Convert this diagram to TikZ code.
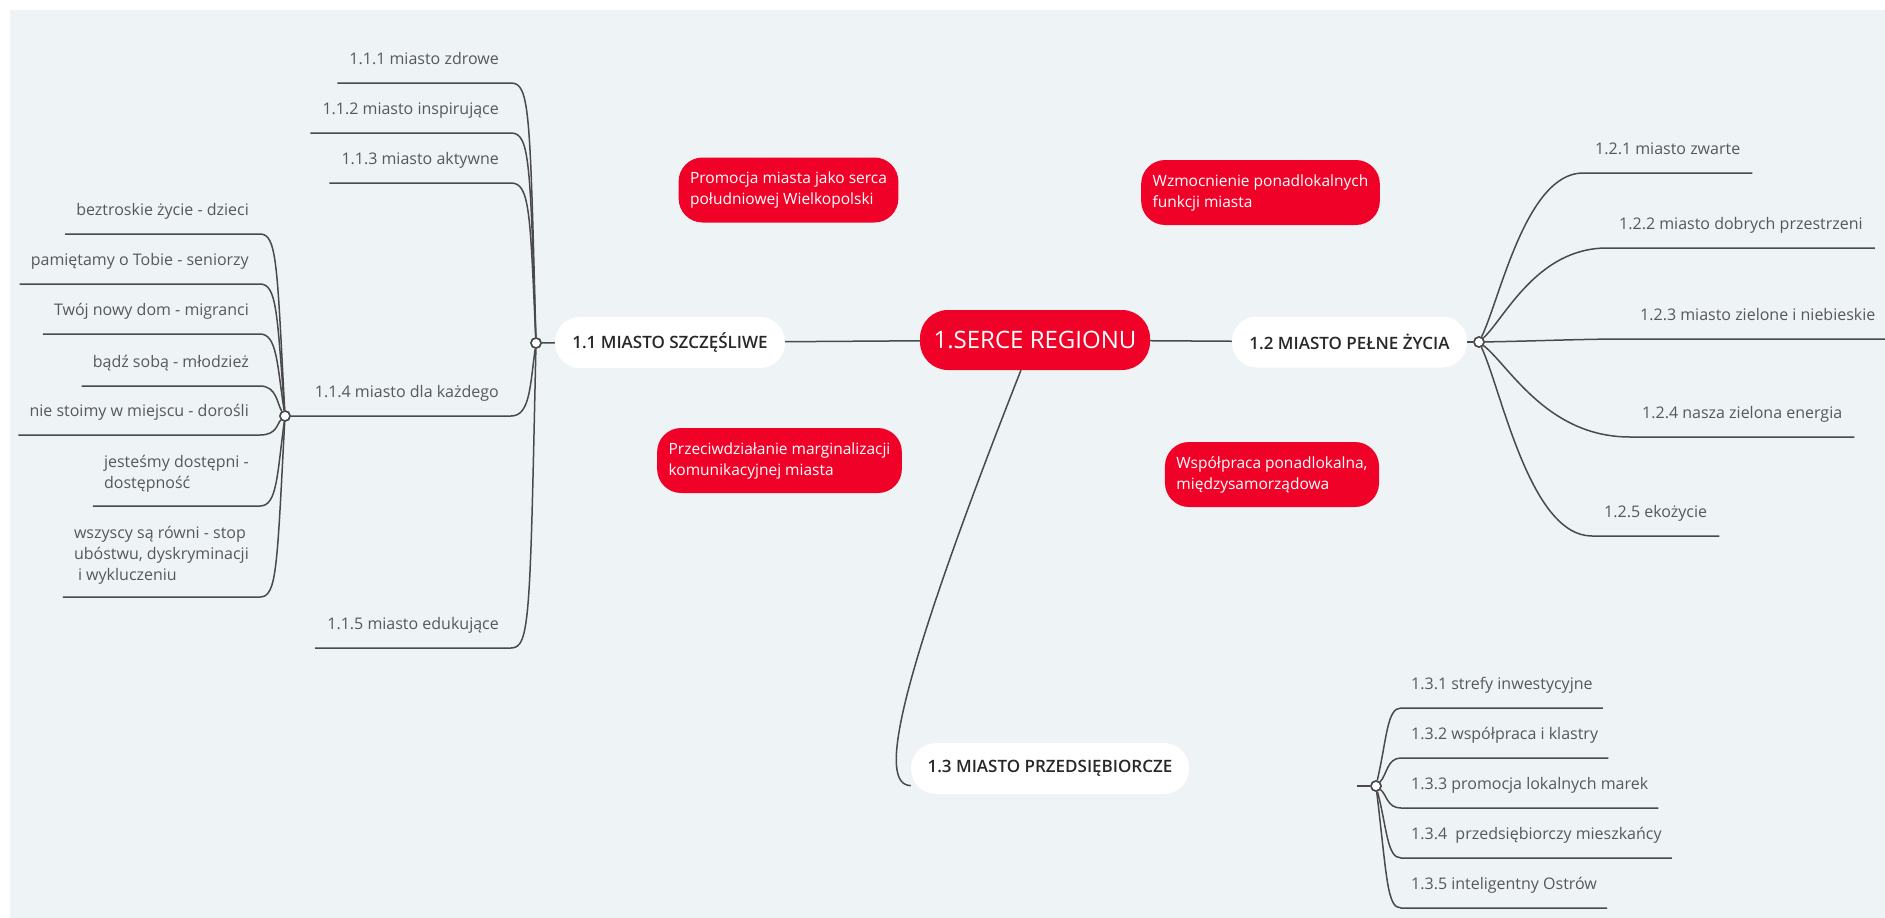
\documentclass[tikz,border=0pt]{standalone}
\usepackage{fontspec}
\setmainfont{Open Sans}
\IfFontExistsTF{Open Sans Semibold}{\newfontfamily\topicfont{Open Sans Semibold}}{\IfFontExistsTF{Open Sans SemiBold}{\newfontfamily\topicfont{Open Sans SemiBold}}{\newfontfamily\topicfont{Open Sans}[FakeBold=1.2]}}
\usetikzlibrary{calc}
\definecolor{bgc}{RGB}{238,243,246}
\definecolor{redc}{RGB}{240,2,40}
\definecolor{linec}{RGB}{74,74,74}
\definecolor{subc}{RGB}{88,88,88}
\definecolor{mainc}{RGB}{40,40,40}
\begin{document}
\begin{tikzpicture}[x=1pt,y=-1pt,
  conn/.style={draw=linec, line width=1.5pt},
  junc/.style={circle, draw=linec, fill=white, line width=1.5pt, minimum size=10pt, inner sep=0pt},
  subtxt/.style={font=\fontsize{16}{21}\selectfont, text=subc, inner ysep=0pt, text height=11.5pt, text depth=3.5pt},
  subL/.style={subtxt, anchor=east, inner xsep=12pt},
  subR/.style={subtxt, anchor=west, inner xsep=12pt},
  multi/.style={font=\fontsize{16}{21}\selectfont, text=subc, inner ysep=0pt, inner xsep=11pt, align=left, anchor=east},
  topic/.style={fill=white, rounded corners=25pt, minimum height=51pt, font=\topicfont\fontsize{17}{20}\selectfont, text=mainc, inner sep=0pt},
  central/.style={fill=redc, rounded corners=28pt, minimum width=230pt, minimum height=60pt, font=\fontsize{24}{28}\selectfont, text=white, inner sep=0pt},
  redbox/.style={fill=redc, rounded corners=24pt, minimum height=65pt, font=\fontsize{15.5}{21}\selectfont, text=white, align=left, inner xsep=11.5pt, inner ysep=0pt}
]
\useasboundingbox (0,0) rectangle (1885,918);
\fill[white] (0,0) rectangle (1885,918);
\fill[bgc] (10,10) rectangle (1885,918);

% main topics
\node[central] (cent) at (1035,340) {1.SERCE REGIONU};
\node[topic, minimum width=230pt] (n11) at (670,342.5) {1.1 MIASTO SZCZĘŚLIWE};
\node[topic, minimum width=235pt] (n12) at (1349.5,342) {1.2 MIASTO PEŁNE ŻYCIA};
\node[topic, minimum width=278pt] (n13) at (1050,768.5) {1.3 MIASTO PRZEDSIĘBIORCZE};

% red floating boxes
\node[redbox] (r1) at (788.5,190) {Promocja miasta jako serca\\południowej Wielkopolski};
\node[redbox] (r2) at (1260.5,192.5) {Wzmocnienie ponadlokalnych\\funkcji miasta};
\node[redbox] (r3) at (779.5,460.5) {Przeciwdziałanie marginalizacji\\komunikacyjnej miasta};
\node[redbox] (r4) at (1272,474.5) {Współpraca ponadlokalna,\\międzysamorządowa};

% junctions
\node[junc] (c1) at (536,343) {};
\node[junc] (c2) at (285,416) {};
\node[junc] (c3) at (1479,342) {};
\node[junc] (c4) at (1376,786) {};
\coordinate (s4) at (1357,786);
\coordinate (e3) at (1885,339);

% 1.1 subtopics
\node[subL] (n111) at (511,60.5) {1.1.1 miasto zdrowe};
\node[subL] (n112) at (511,110.5) {1.1.2 miasto inspirujące};
\node[subL] (n113) at (511,160.5) {1.1.3 miasto aktywne};
\node[subL] (n114) at (511,393.5) {1.1.4 miasto dla każdego};
\node[subL] (n115) at (511,625.5) {1.1.5 miasto edukujące};

% 1.1.4 subtopics
\node[subL, inner xsep=11pt] (a1) at (260,211.5) {beztroskie życie - dzieci};
\node[subL, inner xsep=11pt] (a2) at (260,261.5) {pamiętamy o Tobie - seniorzy};
\node[subL, inner xsep=11pt] (a3) at (260,311.5) {Twój nowy dom - migranci};
\node[subL, inner xsep=11pt] (a4) at (260,363.5) {bądź sobą - młodzież};
\node[subL, inner xsep=11pt] (a5) at (260,412.5) {nie stoimy w miejscu - dorośli};
\node[multi] (a6) at (260,473.5) {jesteśmy dostępni -\\dostępność};
\node[multi] (a7) at (260,555) {wszyscy są równi - stop\\ubóstwu, dyskryminacji\\\hspace*{4pt}i wykluczeniu};

% 1.2 subtopics
\node[subR] (d1) at (1583,150.5) {1.2.1 miasto zwarte};
\node[subR] (d2) at (1607,225.5) {1.2.2 miasto dobrych przestrzeni};
\node[subR] (d3) at (1628,316.5) {1.2.3 miasto zielone i niebieskie};
\node[subR] (d4) at (1630,414.5) {1.2.4 nasza zielona energia};
\node[subR] (d5) at (1592,513.5) {1.2.5 ekożycie};

% 1.3 subtopics
\node[subR, inner xsep=10pt] (b1) at (1401,685.5) {1.3.1 strefy inwestycyjne};
\node[subR, inner xsep=10pt] (b2) at (1401,735.5) {1.3.2 współpraca i klastry};
\node[subR, inner xsep=10pt] (b3) at (1401,785.5) {1.3.3 promocja lokalnych marek};
\node[subR, inner xsep=10pt] (b4) at (1401,835.5) {1.3.4\ \ przedsiębiorczy mieszkańcy};
\node[subR, inner xsep=10pt] (b5) at (1401,885.5) {1.3.5 inteligentny Ostrów};

% main connectors
\draw[conn] (n11) -- (cent);
\draw[conn] (cent) -- (n12);
\draw[conn] (cent.-115) .. controls (895,690) and (878,785) .. (n13.-173);
\draw[conn] (c1) -- (n11);
\draw[conn] (n12) -- (c3);
\draw[conn] (s4) -- (c4);

% 1.1 branches
\draw[conn] (c1) .. controls (530,113) and (530,83) .. (n111.east |- 0,83) -- (n111.west |- 0,83);
\draw[conn] (c1) .. controls (530,163) and (530,133) .. (n112.east |- 0,133) -- (n112.west |- 0,133);
\draw[conn] (c1) .. controls (530,213) and (530,183) .. (n113.east |- 0,183) -- (n113.west |- 0,183);
\draw[conn] (c1) .. controls (530,386) and (530,416) .. (n114.east |- 0,416) -- (c2);
\draw[conn] (c1) .. controls (530,618) and (530,648) .. (n115.east |- 0,648) -- (n115.west |- 0,648);

% 1.1.4 branches
\draw[conn] (c2) .. controls (277,264) and (277,234) .. (a1.east |- 0,234) -- (a1.west |- 0,234);
\draw[conn] (c2) .. controls (277,314) and (277,284) .. (a2.east |- 0,284) -- (a2.west |- 0,284);
\draw[conn] (c2) .. controls (277,364) and (277,334) .. (a3.east |- 0,334) -- (a3.west |- 0,334);
\draw[conn] (c2) .. controls (277,404) and (277,386) .. (a4.east |- 0,386) -- (a4.west |- 0,386);
\draw[conn] (c2) .. controls (277,423.6) and (277,435) .. (a5.east |- 0,435) -- (a5.west |- 0,435);
\draw[conn] (c2) .. controls (277,476) and (277,506) .. (a6.east |- 0,506) -- (a6.west |- 0,506);
\draw[conn] (c2) .. controls (277,567) and (277,597) .. (a7.east |- 0,597) -- (a7.west |- 0,597);

% 1.2 branches
\draw[conn] (c3) .. controls (1499.8,299.75) and (1525.8,173) .. (d1.west |- 0,173) -- (d1.east |- 0,173);
\draw[conn] (c3) .. controls (1504.6,318.5) and (1536.6,248) .. (d2.west |- 0,248) -- (d2.east |- 0,248);
\draw[conn] (c3) .. controls (1540,341) and (1580,339) .. (d3.west |- 0,339) -- (e3);
\draw[conn] (c3) .. controls (1509.2,365.75) and (1546.95,437) .. (d4.west |- 0,437) -- (d4.east |- 0,437);
\draw[conn] (c3) .. controls (1501.6,390.5) and (1529.85,536) .. (d5.west |- 0,536) -- (d5.east |- 0,536);

% 1.3 branches
\draw[conn] (c4) .. controls (1387,738) and (1387,708) .. (b1.west |- 0,708) -- (b1.east |- 0,708);
\draw[conn] (c4) .. controls (1387,774.8) and (1387,758) .. (b2.west |- 0,758) -- (b2.east |- 0,758);
\draw[conn] (c4) .. controls (1387,794.8) and (1387,808) .. (b3.west |- 0,808) -- (b3.east |- 0,808);
\draw[conn] (c4) .. controls (1387,828) and (1387,858) .. (b4.west |- 0,858) -- (b4.east |- 0,858);
\draw[conn] (c4) .. controls (1387,878) and (1387,908) .. (b5.west |- 0,908) -- (b5.east |- 0,908);

% redraw junctions on top
\foreach \j in {c1,c2,c3,c4} {\fill[white] (\j) circle (4.2pt); \draw[linec, line width=1.5pt] (\j) circle (5pt);}
\end{tikzpicture}
\end{document}
